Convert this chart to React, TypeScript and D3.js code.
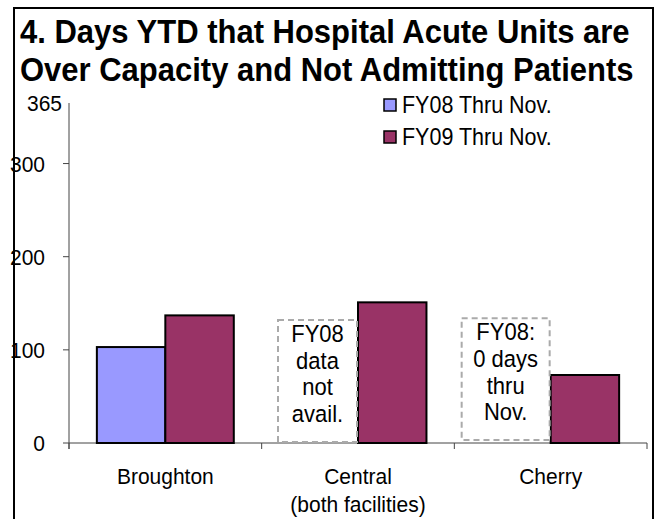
import React from "react";
import * as d3 from "d3";

const categories = ["Broughton", "Central", "Cherry"];
const categoryLines = [["Broughton"], ["Central", "(both facilities)"], ["Cherry"]];
const seriesNames = ["FY08 Thru Nov.", "FY09 Thru Nov."];
const fy08 = [103, null, null];
const fy09 = [137, 151, 73];
const yTicks = [0, 100, 200, 300, 365];
const notes = [
  { category: "Central", lines: ["FY08", "data", "not", "avail."], top: 132 },
  { category: "Cherry", lines: ["FY08:", "0 days", "thru", "Nov."], top: 134 },
];
const colors = ["#9999FF", "#993366"];

const STRETCH = 1.08;

function T({ x, y, children, ...rest }: any) {
  return (
    <text transform={`translate(${x},${y}) scale(1,${STRETCH})`} x={0} y={0} {...rest}>
      {children}
    </text>
  );
}

export default function App() {
  const W = 665, H = 519;
  const y = d3.scaleLinear().domain([0, 365]).range([443, 103]);
  const x = d3.scaleBand().domain(categories).range([69, 647]).padding(0);
  const inner = d3.scaleBand().domain(seriesNames).range([0, x.bandwidth()]).paddingInner(0).paddingOuter(0.407);
  const font = "'Liberation Sans', Arial, sans-serif";
  const series = [fy08, fy09];
  return (
    <svg width={W} height={H} style={{ position: "absolute", left: 0, top: 0 }} fontFamily={font}>
      <rect x={0} y={0} width={W} height={H} fill="#fff" />
      <rect x={14} y={8} width={639} height={530} fill="none" stroke="#000" strokeWidth={2} />
      <T x={20} y={43} fontSize={31} fontWeight="bold">4.  Days YTD that Hospital Acute Units are</T>
      <T x={20} y={81} fontSize={31} fontWeight="bold">Over Capacity and Not Admitting Patients</T>
      {/* axes */}
      <line x1={69} x2={69} y1={y(365)} y2={y(0) + 6} stroke="#444" strokeWidth={1} />
      {yTicks.filter(t => t !== 365).map(t => (
        <line key={t} x1={63} x2={69} y1={y(t)} y2={y(t)} stroke="#444" />
      ))}
      {yTicks.map(t => (
        <T key={t} x={t === 365 ? 62 : 45} y={y(t) + 8} textAnchor="end" fontSize={21}>{t}</T>
      ))}
      <line x1={69} x2={647} y1={y(0)} y2={y(0)} stroke="#444" />
      {[...categories.map(c => x(c)!), 647].map((v, i) => (
        <line key={i} x1={v} x2={v} y1={y(0)} y2={y(0) + 6} stroke="#444" />
      ))}
      {/* bars */}
      {series.map((s, si) =>
        s.map((v, ci) =>
          v == null ? null : (
            <rect
              key={si + "-" + ci}
              x={x(categories[ci])! + inner(seriesNames[si])!}
              y={y(v)}
              width={inner.bandwidth()}
              height={y(0) - y(v)}
              fill={colors[si]}
              stroke="#000"
              strokeWidth={2}
            />
          )
        )
      )}
      {/* notes */}
      {notes.map((n, i) => {
        const x1 = x(n.category)! + inner(seriesNames[0])! + inner.bandwidth() - 1;
        const x0 = x1 - (i === 0 ? 79 : 88);
        const cx = (x0 + x1) / 2;
        return (
          <g key={n.category}>
            <rect x={x0} y={y(n.top)} width={x1 - x0} height={y(0) - 1 - y(n.top) - (i === 0 ? 0 : 2)} fill="#fff" stroke="#aaa" strokeWidth={2} strokeDasharray="6,4" />
            {n.lines.map((l, li) => (
              <T key={li} x={cx} y={y(n.top) + 22 + li * 26.7} textAnchor="middle" fontSize={22}>{l}</T>
            ))}
          </g>
        );
      })}
      {/* category labels */}
      {categoryLines.map((lines, ci) =>
        lines.map((l, li) => (
          <T key={ci + "-" + li} x={x(categories[ci])! + x.bandwidth() / 2} y={484 + li * 28} textAnchor="middle" fontSize={21}>{l}</T>
        ))
      )}
      {/* legend */}
      {seriesNames.map((s, i) => (
        <g key={s}>
          <rect x={384} y={99 + i * 32} width={12} height={12} fill={colors[i]} stroke="#000" strokeWidth={1.5} />
          <T x={402} y={113 + i * 32} fontSize={21.5}>{s}</T>
        </g>
      ))}
    </svg>
  );
}
